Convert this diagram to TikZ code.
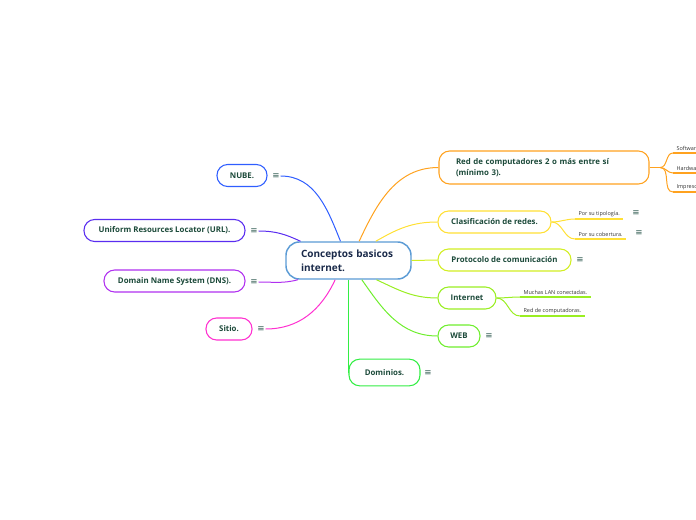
\documentclass[tikz,border=0pt]{standalone}
\usepackage{fontspec}
\setmainfont{Open Sans}
\newfontfamily\iconfont{DejaVu Sans}
\usepackage{tikz}
\usetikzlibrary{positioning}

\definecolor{txtgreen}{HTML}{1C4A3A}
\definecolor{navy}{HTML}{1A2A4A}
\definecolor{centerblue}{HTML}{5B9BD5}
\definecolor{cOrange}{HTML}{FFA21F}
\definecolor{cYellow}{HTML}{FFE035}
\definecolor{cLime}{HTML}{D2EE22}
\definecolor{cGreenA}{HTML}{9AEE22}
\definecolor{cGreenB}{HTML}{6FEE2E}
\definecolor{cGreenC}{HTML}{33EE44}
\definecolor{cBlue}{HTML}{2F5EFF}
\definecolor{cIndigo}{HTML}{5A2DF0}
\definecolor{cPurple}{HTML}{B030F0}
\definecolor{cPink}{HTML}{FF30D0}
\definecolor{icongray}{HTML}{2E5A50}

\begin{document}
\begin{tikzpicture}[
  x=0.75pt, y=-0.75pt,
  central/.style={rectangle, draw=centerblue, line width=1.1pt, rounded corners=10pt, fill=white, text=navy, font=\bfseries\fontsize{7.5}{10.5}\selectfont, align=left, text width=71.25pt, minimum width=93.75pt, minimum height=27.75pt, inner xsep=11.25pt},
  topic/.style={rectangle, draw, line width=0.8pt, rounded corners=8pt, fill=white, text=txtgreen, font=\bfseries\fontsize{5.9}{8}\selectfont, minimum height=16.5pt, inner xsep=4pt},
  sub/.style={anchor=south west, text=black!80, font=\fontsize{4.1}{5}\selectfont, inner xsep=2.5pt, inner ysep=1.6pt},
  icon/.style={text=icongray, font=\iconfont\fontsize{6.5}{6.5}\selectfont, inner sep=0.5pt},
  link/.style={line width=0.75pt},
  uline/.style={line width=1.3pt}
]
\useasboundingbox (0,0) rectangle (696,520);

% Central topic
\node[central] (conc) at (348.5,260.5) {Conceptos basicos\\internet.};

% Right side topics
\node[topic, draw=cOrange, minimum width=157.5pt, minimum height=24.75pt, text width=132pt, align=left, inner xsep=12.75pt] (red) at (544,167.5) {Red de computadores 2 o más entre sí\\(mínimo 3).};
\node[topic, draw=cYellow, minimum width=84.75pt] (clas) at (494.5,222) {Clasificación de redes.};
\node[topic, draw=cLime, minimum width=99.75pt] (prot) at (504.5,260) {Protocolo de comunicación};
\node[topic, draw=cGreenA, minimum width=43.5pt] (inet) at (467,298) {Internet};
\node[topic, draw=cGreenB, minimum width=31.5pt] (web) at (459,336) {WEB};
\node[topic, draw=cGreenC, minimum width=53.25pt, minimum height=20pt] (dom) at (384.5,372.5) {Dominios.};

% Left side topics
\node[topic, draw=cBlue, minimum width=37.5pt] (nube) at (242,175.5) {NUBE.};
\node[topic, draw=cIndigo, minimum width=120.75pt] (url) at (164.5,230.5) {Uniform Resources Locator (URL).};
\node[topic, draw=cPurple, minimum width=105.75pt] (dns) at (174.5,281) {Domain Name System (DNS).};
\node[topic, draw=cPink, minimum width=34.5pt] (sitio) at (229,329) {Sitio.};

% Notes icons
\node[icon] (protic) at (580,260) {≡};
\node[icon] (webic) at (489,336.5) {≡};
\node[icon] (domic) at (428,373) {≡};
\node[icon] (nubeic) at (276,176) {≡};
\node[icon] (urlic) at (254,231) {≡};
\node[icon] (dnsic) at (254,282) {≡};
\node[icon] (sitioic) at (261,329) {≡};

% Subtopics
\node[sub] (soft) at (673,153) {Software};
\node[sub] (hard) at (673,173) {Hardware};
\node[sub] (impr) at (673,192) {Impresoras};
\node[sub] (tipo) at (575,219) {Por su tipología.};
\node[sub] (cobe) at (575,239) {Por su cobertura.};
\node[sub] (lan) at (520,297) {Muchas LAN conectadas.};
\node[sub] (redc) at (520,316) {Red de computadoras.};
\node[icon] (tipoic) at (636,213) {≡};
\node[icon] (cobeic) at (639,233.5) {≡};

\foreach \s in {soft,hard,impr}
  \draw[uline, cOrange] (\s.south west) -- (\s.south east);
\foreach \s in {tipo,cobe}
  \draw[uline, cYellow] (\s.south west) -- (\s.south east);
\foreach \s in {lan,redc}
  \draw[uline, cGreenA] (\s.south west) -- (\s.south east);

% Links from the centre
\draw[link, cOrange] ([xshift=8pt]conc.north) to[out=65, in=180] (red.west);
\draw[link, cYellow] ([xshift=20.5pt]conc.north) to[out=30, in=180] (clas.west);
\draw[link, cLime] (conc.east) -- (prot.west);
\draw[link, cGreenA] ([xshift=21pt]conc.south) to[out=-25, in=180] (inet.west);
\draw[link, cGreenB] ([xshift=10pt]conc.south) to[out=-55, in=180] (web.west);
\draw[link, cGreenC] (conc.south -| dom.west) -- (dom.west);
\draw[link, cBlue] (nubeic.east) to[out=0, in=112] ([xshift=-6pt]conc.north);
\draw[link, cIndigo] (urlic.east) to[out=0, in=155] ([xshift=-36pt]conc.north);
\draw[link, cPurple] (dnsic.east) to[out=0, in=195] ([xshift=-38pt]conc.south);
\draw[link, cPink] (sitioic.east) to[out=0, in=245] ([xshift=-10pt]conc.south);

% Links to subtopics
\coordinate (redbr) at ([xshift=8pt]red.east);
\draw[link, cOrange] (red.east) -- (redbr);
\foreach \s in {soft,hard,impr}
  \draw[link, cOrange] (redbr) to[out=0, in=180] (\s.south west);
\draw[link, cYellow] (clas.east) to[out=0, in=180] (tipo.south west);
\draw[link, cYellow] (clas.east) to[out=0, in=180] (cobe.south west);
\draw[link, cGreenA] (inet.east) to[out=0, in=180] (lan.south west);
\draw[link, cGreenA] (inet.east) to[out=0, in=180] (redc.south west);

\end{tikzpicture}
\end{document}
